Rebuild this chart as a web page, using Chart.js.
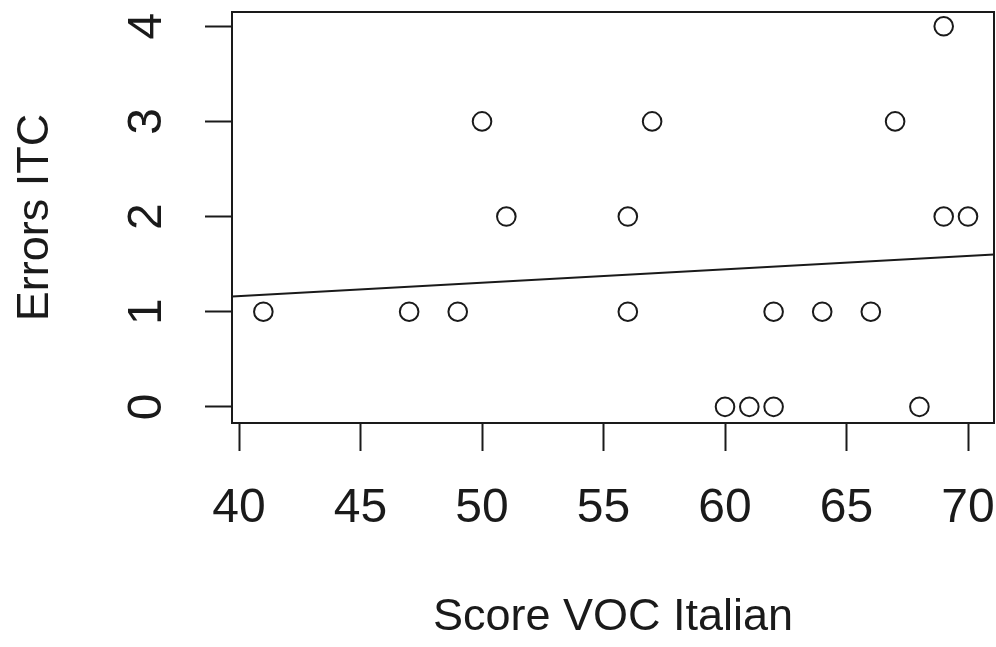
<!DOCTYPE html>
<html>
<head>
<meta charset="utf-8">
<script src="https://cdn.jsdelivr.net/npm/chart.js@4/dist/chart.umd.min.js"></script>
<style>
  html, body { margin: 0; padding: 0; background: #ffffff; }
  #wrap { width: 996px; height: 647px; }
</style>
</head>
<body>
<div id="wrap"><canvas id="c" width="996" height="647"></canvas></div>
<script>
// ---- data ----
const scoreVOC = [41, 47, 49, 50, 51, 56, 56, 57, 60, 61, 62, 62, 64, 66, 67, 68, 69, 69, 70];
const errorsITC = [1, 1, 1, 3, 2, 2, 1, 3, 0, 0, 0, 1, 1, 1, 3, 0, 4, 2, 2];
const fitLineX = [39.71, 71.07];
const fitLineY = [1.16, 1.60];
const xTickValues = [40, 45, 50, 55, 60, 65, 70];
const yTickValues = [0, 1, 2, 3, 4];
const xTitle = 'Score VOC Italian';
const yTitle = 'Errors ITC';

const ink = '#1a1a1a';
const fontFamily = '"Liberation Sans", Arial, sans-serif';

const points = scoreVOC.map((x, i) => ({ x: x, y: errorsITC[i] }));
const fitPoints = fitLineX.map((x, i) => ({ x: x, y: fitLineY[i] }));

const boxPlugin = {
  id: 'boxPlugin',
  afterDatasetsDraw(chart) {
    const a = chart.chartArea;
    const ctx = chart.ctx;
    ctx.save();
    ctx.strokeStyle = ink;
    ctx.lineWidth = 2;
    ctx.strokeRect(a.left, a.top, a.right - a.left, a.bottom - a.top);
    ctx.restore();
  }
};

function noScalePadding(scale) {
  scale.paddingTop = 0;
  scale.paddingBottom = 0;
  scale.paddingLeft = 0;
  scale.paddingRight = 0;
}

new Chart(document.getElementById('c'), {
  type: 'scatter',
  data: {
    datasets: [
      {
        type: 'scatter',
        data: points,
        pointStyle: 'circle',
        pointRadius: 9.3,
        pointHoverRadius: 9.3,
        borderWidth: 2,
        borderColor: ink,
        backgroundColor: 'rgba(0,0,0,0)',
        clip: false
      },
      {
        type: 'line',
        data: fitPoints,
        borderColor: ink,
        borderWidth: 2,
        pointRadius: 0,
        fill: false,
        tension: 0
      }
    ]
  },
  options: {
    responsive: false,
    animation: false,
    events: [],
    layout: { autoPadding: false, padding: { top: 12, right: 2, left: 0, bottom: 0 } },
    plugins: {
      legend: { display: false },
      tooltip: { enabled: false },
      title: { display: false }
    },
    scales: {
      x: {
        type: 'linear',
        position: 'bottom',
        min: 39.71,
        max: 71.07,
        afterBuildTicks(scale) { scale.ticks = xTickValues.map(v => ({ value: v })); },
        afterFit(scale) { scale.height = 224; noScalePadding(scale); },
        border: { display: false },
        grid: { drawOnChartArea: false, drawTicks: true, tickLength: 28, tickWidth: 2, tickColor: ink },
        ticks: {
          color: ink,
          font: { family: fontFamily, size: 48 },
          padding: 29,
          maxRotation: 0,
          minRotation: 0,
          autoSkip: false
        },
        title: {
          display: true,
          text: xTitle,
          color: ink,
          font: { family: fontFamily, size: 45 },
          padding: { top: 0, bottom: 2 }
        }
      },
      y: {
        type: 'linear',
        position: 'left',
        min: -0.17,
        max: 4.15,
        afterBuildTicks(scale) { scale.ticks = yTickValues.map(v => ({ value: v })); },
        afterFit(scale) { scale.width = 232; noScalePadding(scale); },
        border: { display: false },
        grid: { drawOnChartArea: false, drawTicks: true, tickLength: 27, tickWidth: 2, tickColor: ink },
        ticks: {
          color: ink,
          font: { family: fontFamily, size: 48 },
          padding: 44,
          minRotation: 90,
          maxRotation: 90,
          crossAlign: 'center',
          autoSkip: false
        },
        title: {
          display: true,
          text: yTitle,
          color: ink,
          font: { family: fontFamily, size: 45 },
          padding: { top: 9, bottom: 0 }
        }
      }
    }
  },
  plugins: [boxPlugin]
});
</script>
</body>
</html>
